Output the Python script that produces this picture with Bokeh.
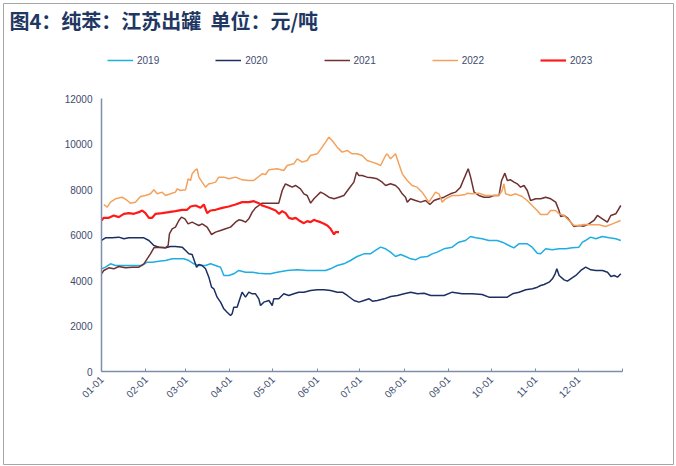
from bokeh.plotting import figure
from bokeh.models import (Range1d, FixedTicker, Label, Legend, LegendItem)
from bokeh.embed import file_html
from bokeh.resources import INLINE
import math

# ---- data (day of year, price 元/吨) ----
days_2019 = [0, 2.8, 6.3, 9.8, 14.5, 19.2, 23.8, 28.5, 32.0, 35.5, 40.2, 44.8, 49.5, 54.2, 57.7, 61.2, 64.7, 68.2,
             72.9, 76.4, 79.9, 83.4, 85.7, 89.2, 92.7, 96.2, 100.9, 105.6, 110.2, 114.9, 118.4, 123.1, 130.1, 137.1,
             144.1, 151.1, 157.0, 160.4, 165.1, 169.8, 174.4, 179.1, 183.8, 188.4, 191.9, 195.5, 199.0, 202.5,
             206.0, 209.6, 213.0, 216.6, 220.0, 223.6, 228.3, 231.7, 235.2, 239.9, 245.7, 250.3, 255.0, 258.6,
             262.1, 266.7, 271.4, 277.2, 280.8, 285.4, 288.9, 292.4, 298.3, 301.7, 305.3, 307.6, 311.2, 315.8,
             320.5, 325.2, 329.8, 334.5, 336.9, 339.2, 342.7, 346.3, 350.9, 355.6, 360.3, 363.8]
vals_2019 = [4513, 4586, 4733, 4660, 4660, 4660, 4660, 4660, 4806, 4806, 4850, 4879, 4953, 4953, 4953, 4879, 4733, 4660,
             4660, 4733, 4660, 4586, 4220, 4220, 4293, 4440, 4366, 4366, 4322, 4293, 4293, 4366, 4440, 4469,
             4440, 4440, 4440, 4513, 4660, 4733, 4879, 5055, 5172, 5172, 5319, 5466, 5392, 5246,
             5055, 5143, 5055, 4953, 4909, 5026, 5055, 5172, 5246, 5392, 5466, 5685, 5759, 5934,
             5876, 5832, 5759, 5759, 5685, 5539, 5436, 5612, 5612, 5466, 5202, 5172, 5392, 5348,
             5392, 5392, 5436, 5466, 5685, 5759, 5905, 5832, 5934, 5876, 5832, 5759]

days_2020 = [0, 2.8, 7.5, 12.1, 15.7, 19.2, 23.8, 29.7, 33.2, 36.7, 40.2, 44.8, 48.3, 51.8, 56.5, 58.9, 61.2, 63.5,
             65.4, 66.6, 68.2, 70.5, 72.9, 75.2, 77.1, 78.7, 81.0, 83.4, 85.7, 88.0, 90.4, 91.5, 92.7, 95.0, 97.3,
             98.5, 100.9, 103.2, 105.6, 107.9, 110.2, 111.4, 113.7, 117.3, 119.6, 120.7, 124.2, 127.7, 131.2,
             134.7, 138.2, 141.8, 146.5, 151.1, 155.9, 160.5, 165.2, 168.7, 172.2, 176.9, 180.4, 183.9, 187.5,
             189.8, 193.3, 198.0, 202.7, 207.3, 212.0, 216.7, 221.4, 226.0, 230.7, 235.4, 240.0, 245.7, 252.7,
             259.7, 266.7, 271.4, 278.5, 284.3, 287.9, 292.5, 297.2, 301.9, 305.4, 307.7, 310.1, 313.6, 315.9,
             317.8, 319.0, 320.6, 324.1, 326.4, 328.7, 332.3, 335.8, 339.2, 342.8, 346.3, 351.0, 354.5, 356.9,
             359.2, 361.5, 363.8]
vals_2020 = [5759, 5876, 5876, 5905, 5832, 5876, 5876, 5876, 5759, 5539, 5466, 5436, 5495, 5495, 5466, 5319, 5172, 5143,
             4806, 4586, 4704, 4660, 4513, 4147, 3707, 3634, 3268, 3048, 2755, 2608, 2461, 2535, 2828, 2828, 3268,
             3487, 3268, 3487, 3414, 3414, 3194, 2901, 3048, 3121, 2901, 3194, 3194, 3414, 3341,
             3414, 3487, 3487, 3560, 3590, 3590, 3560, 3487, 3487, 3341, 3121, 3048, 3121, 3194,
             3091, 3121, 3194, 3297, 3341, 3414, 3487, 3414, 3443, 3341, 3341, 3341, 3487, 3414,
             3414, 3385, 3268, 3268, 3268, 3414, 3487, 3590, 3634, 3707, 3780, 3824, 3927, 4073,
             4293, 4513, 4220, 4029, 3971, 4073, 4220, 4440, 4586, 4469, 4440, 4440, 4366, 4176,
             4220, 4147, 4293]

days_2021 = [0, 1.6, 5.1, 8.6, 12.1, 16.8, 21.5, 26.2, 29.7, 32.0, 34.3, 36.7, 40.2, 44.8, 46.7, 47.6, 49.5, 51.8,
             54.2, 56.0, 58.4, 60.7, 63.5, 65.9, 68.2, 70.5, 74.0, 77.1, 79.9, 83.4, 86.9, 90.4, 93.9, 96.2, 98.5,
             100.9, 103.2, 105.6, 107.9, 110.2, 112.6, 117.3, 124.2, 126.6, 127.7, 128.9, 131.2, 133.6, 135.9,
             139.4, 141.8, 144.1, 146.5, 148.8, 151.1, 153.5, 155.9, 159.3, 162.9, 166.3, 169.8, 173.3, 176.8,
             178.7, 180.3, 182.6, 186.1, 189.6, 193.1, 196.7, 199.0, 202.5, 206.0, 208.4, 210.7, 213.0, 214.2,
             216.5, 220.0, 223.6, 227.0, 230.1, 232.9, 236.4, 239.9, 244.5, 248.0, 251.5, 253.9, 256.9, 258.6,
             261.0, 264.4, 268.0, 271.5, 275.0, 278.5, 280.3, 282.6, 284.3, 286.6, 289.0, 291.3, 293.6, 296.0,
             298.3, 300.6, 304.2, 307.7, 311.2, 314.7, 318.2, 320.5, 321.7, 324.0, 326.4, 328.7, 331.0, 334.5,
             338.0, 341.5, 345.0, 347.4, 350.9, 354.4, 356.8, 360.3, 363.8]
vals_2021 = [4293, 4440, 4557, 4513, 4616, 4557, 4586, 4586, 4733, 4953, 5172, 5436, 5466, 5436, 5539, 6052, 6271, 6345,
             6638, 6784, 6711, 6491, 6564, 6491, 6418, 6491, 6345, 6022, 6125, 6198, 6271, 6345, 6564, 6667, 6638,
             6564, 6711, 7004, 7194, 7297, 7400, 7400, 7400, 7956, 8103, 8249, 8176, 8103, 8176,
             8030, 7810, 7737, 7400, 7590, 7737, 7883, 7810, 7663, 7590, 7663, 7737, 8030, 8323,
             8762, 8616, 8616, 8543, 8513, 8469, 8323, 8176, 8249, 8176, 8030, 7810, 7663, 7444,
             7590, 7517, 7444, 7517, 7341, 7517, 7590, 7663, 7810, 7883, 8103, 8469, 8909, 8543,
             7883, 7737, 7663, 7663, 7737, 7737, 8396, 8718, 8396, 8425, 8323, 8249, 8103, 8176,
             7956, 7517, 7590, 7590, 7663, 7590, 7444, 7077, 6814, 6858, 6755, 6564, 6374, 6418,
             6389, 6491, 6638, 6858, 6711, 6564, 6858, 6931, 7297]

days_2022 = [1.6, 4.0, 6.3, 9.8, 14.5, 18.0, 20.3, 23.8, 27.3, 30.8, 34.3, 36.7, 39.0, 42.5, 44.8, 48.3, 51.8, 53.0,
             55.3, 58.9, 60.7, 62.4, 63.5, 65.9, 67.0, 68.2, 70.5, 72.9, 75.2, 77.5, 79.9, 82.2, 85.7, 89.2, 93.9,
             98.5, 103.2, 106.7, 110.2, 112.6, 114.9, 117.2, 123.1, 127.7, 130.1, 134.7, 137.1, 140.6, 144.1,
             146.4, 151.1, 154.6, 157.0, 159.3, 161.6, 165.1, 168.6, 172.1, 175.6, 179.1, 182.6, 186.1, 189.6,
             193.1, 195.5, 199.0, 200.1, 202.5, 206.0, 208.3, 210.7, 214.2, 217.6, 221.1, 224.6, 227.0, 229.3,
             231.7, 234.0, 236.4, 238.7, 241.0, 245.7, 250.3, 255.0, 256.2, 259.7, 264.4, 269.0, 273.7, 278.4,
             280.7, 281.9, 283.1, 286.6, 290.1, 294.7, 298.2, 301.7, 305.2, 307.6, 312.3, 314.6, 318.1, 320.5,
             324.0, 327.5, 331.0, 334.5, 338.0, 343.9, 348.5, 353.2, 357.9, 363.7]
vals_2022 = [7341, 7224, 7444, 7590, 7663, 7517, 7400, 7444, 7693, 7737, 7810, 7986, 7810, 7883, 7737, 7810, 7883, 8030,
             7956, 7986, 8469, 8396, 8689, 8865, 8909, 8543, 8323, 8103, 8249, 8279, 8323, 8543, 8543, 8469, 8543,
             8425, 8396, 8396, 8572, 8689, 8660, 8865, 8909, 8836, 9055, 9129, 9349, 9202, 9275,
             9495, 9568, 9861, 10081, 10301, 10154, 9861, 9642, 9715, 9568, 9568, 9495, 9275, 9202,
             9129, 9055, 9495, 9568, 9349, 9568, 9129, 8689, 8396, 8176, 8103, 7883, 7663, 7444,
             7663, 7883, 7810, 7444, 7590, 7737, 7737, 7781, 7839, 7810, 7839, 7737, 7737, 7737,
             7956, 8249, 7810, 7737, 7810, 7693, 7517, 7297, 7077, 6901, 6901, 7077, 7077, 6931,
             6858, 6638, 6418, 6418, 6462, 6447, 6447, 6374, 6491, 6638]

days_2023 = [0, 1.6, 5.1, 8.6, 12.1, 15.7, 19.2, 22.7, 26.2, 28.5, 30.8, 33.2, 35.5, 37.9, 42.5, 47.2, 51.8, 56.5,
             60.0, 62.4, 65.9, 69.4, 71.7, 74.0, 76.4, 79.9, 84.6, 89.2, 93.9, 98.5, 103.2, 106.7, 110.2, 112.6,
             117.3, 122.0, 124.3, 126.6, 129.0, 131.3, 133.7, 136.0, 138.4, 141.8, 144.1, 146.5, 148.8, 151.2,
             153.5, 155.9, 158.2, 160.5, 162.9, 164.0, 166.4]
vals_2023 = [6638, 6755, 6755, 6858, 6784, 6931, 6960, 6931, 7004, 7077, 6960, 6755, 6755, 6931, 6960, 7004, 7048, 7107,
             7107, 7253, 7297, 7194, 7341, 6960, 7077, 7107, 7194, 7253, 7341, 7444, 7444, 7488, 7400, 7297,
             7194, 7077, 6931, 7048, 6960, 6755, 6711, 6755, 6638, 6520, 6608, 6564, 6667, 6608,
             6564, 6491, 6418, 6271, 6022, 6125, 6125]

series_names = ["2019", "2020", "2021", "2022", "2023"]
series_days = [days_2019, days_2020, days_2021, days_2022, days_2023]
series_vals = [vals_2019, vals_2020, vals_2021, vals_2022, vals_2023]
series_colors = ["#1FADE3", "#1B2F63", "#6E3030", "#F4A15C", "#FF1A1A"]
series_widths = [1.5, 1.5, 1.5, 1.5, 2.2]

month_ticks = [0, 31, 59, 90, 120, 151, 181, 212, 243, 273, 304, 334, 365]
month_labels = ["01-01", "02-01", "03-01", "04-01", "05-01", "06-01", "07-01",
                "08-01", "09-01", "10-01", "11-01", "12-01", ""]
y_ticks = [0, 2000, 4000, 6000, 8000, 10000, 12000]
x_max, y_max = 365, 12000

title_text = "图4：纯苯：江苏出罐\u00a0\u00a0单位：元/吨"

# ---- layout (pixels) ----
W, H = 676, 466
box_l, box_r, box_t, box_b = 3, 673, 3, 464          # outer grey box
ax_l, ax_r, ax_t, ax_b = 101, 622, 98, 371            # axes area

ppx = (ax_r - ax_l) / x_max
ppy = (ax_b - ax_t) / y_max
x_range = Range1d(-(ax_l - box_l) / ppx, x_max + (box_r - ax_r) / ppx)
y_range = Range1d(-(box_b - ax_b) / ppy, y_max + (ax_t - box_t) / ppy)

p = figure(width=W, height=H, output_backend="svg", toolbar_location=None,
           x_range=x_range, y_range=y_range,
           min_border_left=box_l, min_border_right=W - box_r,
           min_border_top=box_t, min_border_bottom=H - box_b)
p.outline_line_color = "#A6A6A6"
p.outline_line_width = 1
p.xgrid.grid_line_color = None
p.ygrid.grid_line_color = None
p.background_fill_color = "white"
p.border_fill_color = "white"

axis_col = "#7E8DAA"
lab_col = "#3D4B6E"

p.xaxis.fixed_location = 0
p.xaxis.bounds = (0, x_max)
p.xaxis.ticker = FixedTicker(ticks=month_ticks)
p.xaxis.major_label_overrides = {t: l for t, l in zip(month_ticks, month_labels)}
p.xaxis.major_label_orientation = math.pi / 4
p.xaxis.minor_tick_line_color = None
p.xaxis.major_tick_in = 3
p.xaxis.major_tick_out = 0
p.xaxis.major_tick_line_color = axis_col
p.xaxis.axis_line_color = axis_col
p.xaxis.axis_line_width = 1.5
p.xaxis.major_label_standoff = 6

p.yaxis.fixed_location = 0
p.yaxis.bounds = (0, y_max)
p.yaxis.ticker = FixedTicker(ticks=y_ticks)
p.yaxis.minor_tick_line_color = None
p.yaxis.major_tick_in = 0
p.yaxis.major_tick_out = 0
p.yaxis.axis_line_color = axis_col
p.yaxis.axis_line_width = 1.5
p.yaxis.major_label_standoff = 9

for ax in (p.xaxis, p.yaxis):
    ax.major_label_text_font = "Liberation Sans"
    ax.major_label_text_font_size = "10px"
    ax.major_label_text_color = lab_col

items = []
for name, d, v, c, w in zip(series_names, series_days, series_vals, series_colors, series_widths):
    r = p.line(d, v, line_color=c, line_width=w)
    items.append(LegendItem(label=name, renderers=[r]))

legend = Legend(items=items, orientation="horizontal",
                location=(107 - box_l, box_b - 66),
                glyph_width=26, glyph_height=12, label_standoff=4, spacing=56,
                padding=0, margin=0, border_line_color=None, background_fill_alpha=0,
                label_text_font="Liberation Sans", label_text_font_size="10px",
                label_text_color=lab_col, label_height=12)
p.add_layout(legend)

title = Label(x=9 - box_l, y=box_b - 20, x_units="screen", y_units="screen", text=title_text,
              text_font="Noto Sans CJK SC", text_font_size="20px", text_font_style="bold",
              text_color="#1F3763", text_baseline="middle", text_align="left")
p.add_layout(title)

open("out.html", "w").write(file_html(p, INLINE))
